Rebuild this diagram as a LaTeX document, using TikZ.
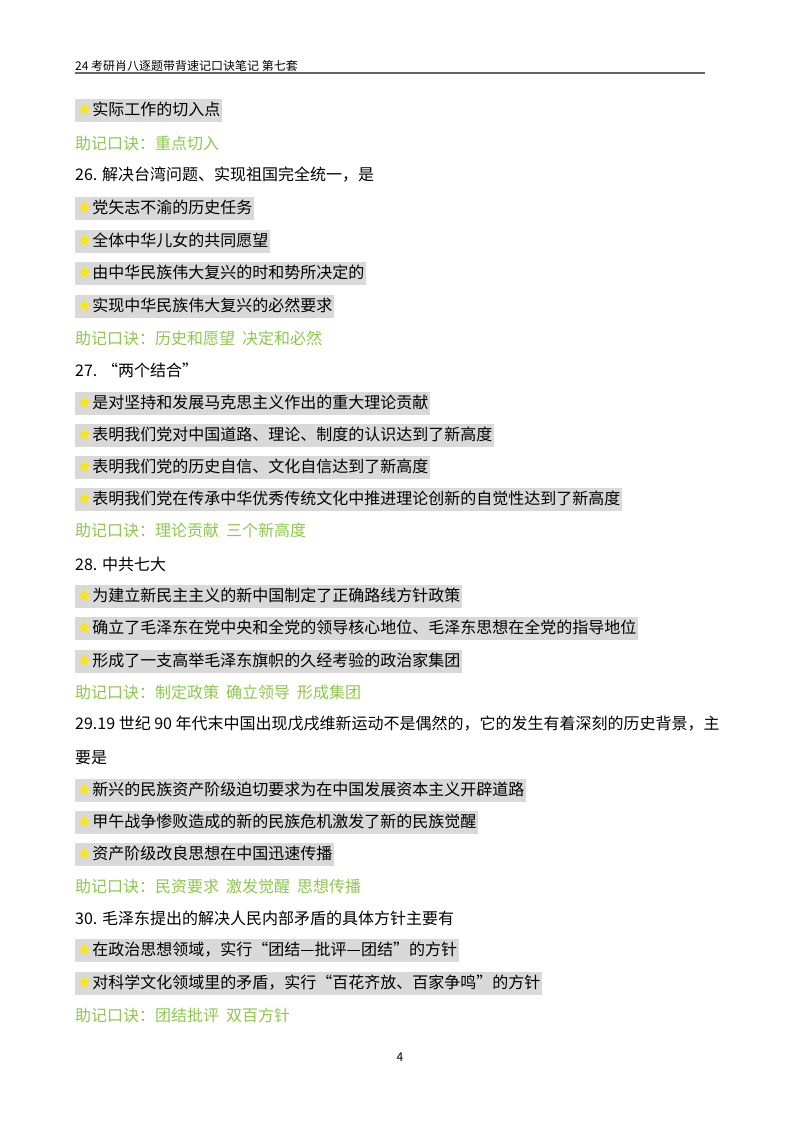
\documentclass[tikz,border=0pt]{standalone}
\usepackage{fontspec}
\setmainfont{Noto Sans CJK SC}
\newfontfamily\symf{DejaVu Sans}
\definecolor{gbg}{HTML}{D9D9D9}
\definecolor{mgreen}{HTML}{8CC84B}
\definecolor{staryel}{HTML}{FFE600}
\newcommand{\fs}{\fontsize{16}{18}\selectfont}
\tikzset{
 base/.style={anchor=west,inner sep=0pt,font=\fs},
 bulbox/.style={base,fill=gbg,inner xsep=2pt,inner ysep=3pt,text depth=3pt,text height=14pt},
 ttl/.style={base,text=black},
 mnem/.style={base,text=mgreen},
}
\newcommand{\st}{{\symf\color{staryel}\fontsize{17}{17}\selectfont ★}}
\newcommand{\gapsp}{\hspace{7pt}}
\begin{document}
\begin{tikzpicture}[x=1pt,y=1pt]
\useasboundingbox (0,0) rectangle (800,-1132);
\node[base,font=\fontsize{12}{14}\selectfont] (hdr) at (75,-66) {24 考研肖八逐题带背速记口诀笔记 第七套};
\draw[line width=1pt,gray!80!black] (75,-73) -- (705,-73);
\node[bulbox] (b1) at (75,-110) {\st 实际工作的切入点};
\node[mnem] (m1) at (75,-143) {助记口诀：重点切入};
\node[ttl] (t26) at (75,-175) {26. 解决台湾问题、实现祖国完全统一，是};
\node[bulbox] (b26a) at (75,-208) {\st 党矢志不渝的历史任务};
\node[bulbox] (b26b) at (75,-241) {\st 全体中华儿女的共同愿望};
\node[bulbox] (b26c) at (75,-273) {\st 由中华民族伟大复兴的时和势所决定的};
\node[bulbox] (b26d) at (75,-306) {\st 实现中华民族伟大复兴的必然要求};
\node[mnem] (m26) at (75,-338) {助记口诀：历史和愿望\gapsp 决定和必然};
\node[ttl] (t27) at (75,-370) {27. “两个结合”};
\node[bulbox] (b27a) at (75,-403) {\st 是对坚持和发展马克思主义作出的重大理论贡献};
\node[bulbox] (b27b) at (75,-435) {\st 表明我们党对中国道路、理论、制度的认识达到了新高度};
\node[bulbox] (b27c) at (75,-467) {\st 表明我们党的历史自信、文化自信达到了新高度};
\node[bulbox] (b27d) at (75,-499) {\st 表明我们党在传承中华优秀传统文化中推进理论创新的自觉性达到了新高度};
\node[mnem] (m27) at (75,-530) {助记口诀：理论贡献\gapsp 三个新高度};
\node[ttl] (t28) at (75,-564) {28. 中共七大};
\node[bulbox] (b28a) at (75,-596) {\st 为建立新民主主义的新中国制定了正确路线方针政策};
\node[bulbox] (b28b) at (75,-628) {\st 确立了毛泽东在党中央和全党的领导核心地位、毛泽东思想在全党的指导地位};
\node[bulbox] (b28c) at (75,-661) {\st 形成了一支高举毛泽东旗帜的久经考验的政治家集团};
\node[mnem] (m28) at (75,-692) {助记口诀：制定政策\gapsp 确立领导\gapsp 形成集团};
\node[ttl,text width=662pt,align=justify] (t29) at (75,-724) {29.19 世纪 90 年代末中国出现戊戌维新运动不是偶然的，它的发生有着深刻的历史背景，主};
\node[ttl] (t29b) at (75,-758) {要是};
\node[bulbox] (b29a) at (75,-790) {\st 新兴的民族资产阶级迫切要求为在中国发展资本主义开辟道路};
\node[bulbox] (b29b) at (75,-822) {\st 甲午战争惨败造成的新的民族危机激发了新的民族觉醒};
\node[bulbox] (b29c) at (75,-854) {\st 资产阶级改良思想在中国迅速传播};
\node[mnem] (m29) at (75,-886) {助记口诀：民资要求\gapsp 激发觉醒\gapsp 思想传播};
\node[ttl] (t30) at (75,-918) {30. 毛泽东提出的解决人民内部矛盾的具体方针主要有};
\node[bulbox] (b30a) at (75,-950) {\st 在政治思想领域，实行“团结—批评—团结”的方针};
\node[bulbox] (b30b) at (75,-983) {\st 对科学文化领域里的矛盾，实行“百花齐放、百家争鸣”的方针};
\node[mnem] (m30) at (75,-1015) {助记口诀：团结批评\gapsp 双百方针};
\node[inner sep=0pt,font=\fontsize{12}{14}\selectfont] (pg) at (400,-1057) {4};
\end{tikzpicture}
\end{document}
